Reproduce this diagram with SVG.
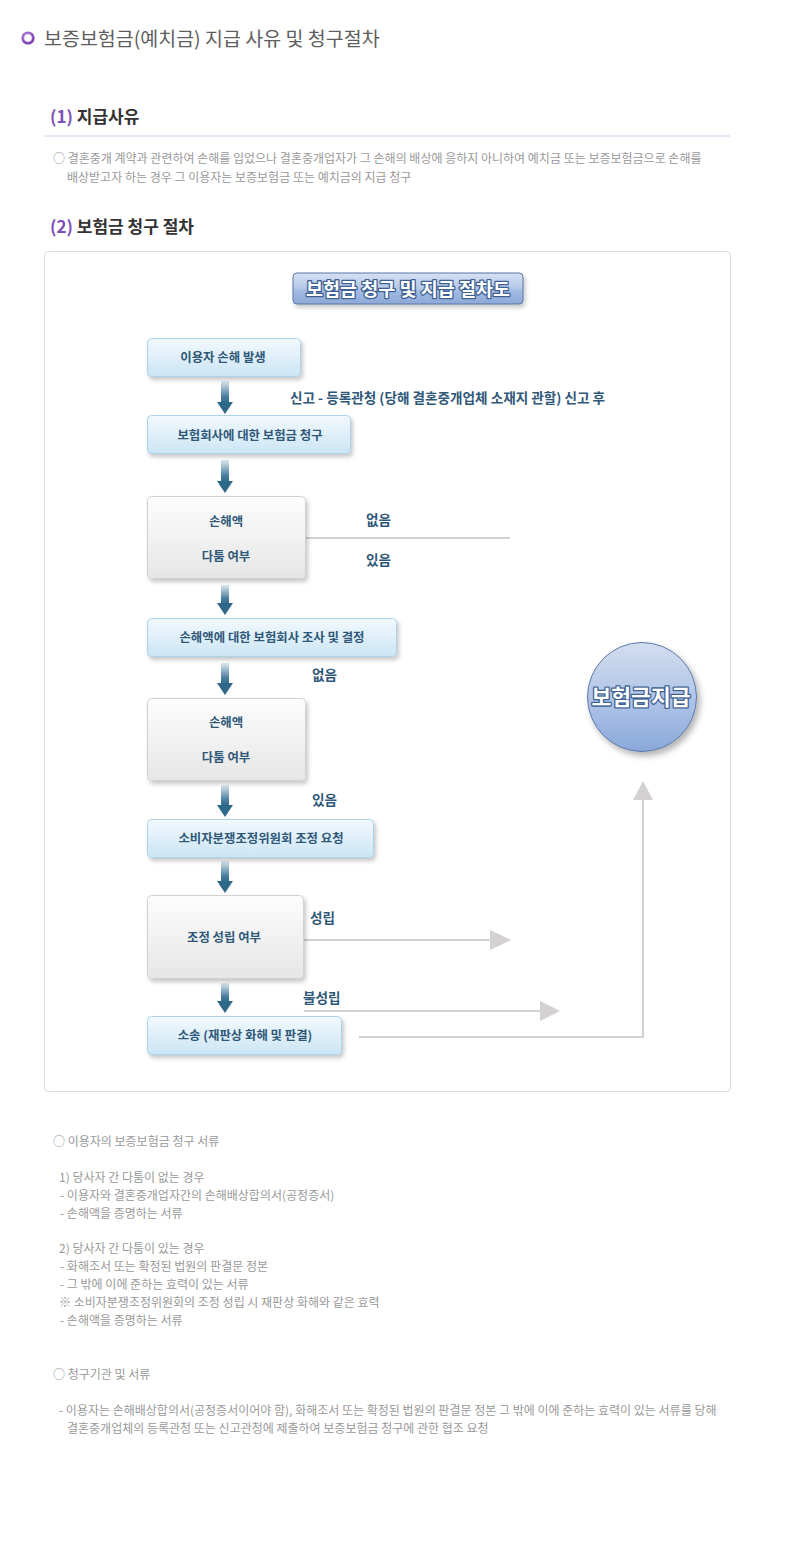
<svg xmlns="http://www.w3.org/2000/svg" width="800" height="1550" viewBox="0 0 800 1550">
<defs>
<linearGradient id="gBlue" x1="0" y1="0" x2="0" y2="1"><stop offset="0" stop-color="#f3f9fd"/><stop offset="1" stop-color="#cbe5f5"/></linearGradient>
<linearGradient id="gGray" x1="0" y1="0" x2="0" y2="1"><stop offset="0" stop-color="#fdfdfd"/><stop offset="1" stop-color="#e6e6e6"/></linearGradient>
<linearGradient id="gShaft" x1="0" y1="0" x2="0" y2="1"><stop offset="0" stop-color="#dde9f0"/><stop offset="0.7" stop-color="#4c7f9f"/><stop offset="1" stop-color="#2d6889"/></linearGradient>
<linearGradient id="gBtn" x1="0" y1="0" x2="0" y2="1"><stop offset="0" stop-color="#d6e1f3"/><stop offset="0.5" stop-color="#b3c7e8"/><stop offset="0.55" stop-color="#a3bbe3"/><stop offset="1" stop-color="#8ea9d8"/></linearGradient>
<linearGradient id="gCircle" x1="0" y1="0" x2="0" y2="1"><stop offset="0" stop-color="#d3deef"/><stop offset="0.55" stop-color="#aec3e6"/><stop offset="0.65" stop-color="#a6bde6"/><stop offset="1" stop-color="#8aa8d9"/></linearGradient>
<radialGradient id="gBullet" cx="0.4" cy="0.35" r="0.7"><stop offset="0" stop-color="#c9a3ea"/><stop offset="1" stop-color="#7a3fb0"/></radialGradient>
<filter id="sh" x="-10%" y="-20%" width="130%" height="160%"><feDropShadow dx="2" dy="3" stdDeviation="2" flood-color="#000" flood-opacity="0.22"/></filter>
<filter id="shc" x="-20%" y="-20%" width="150%" height="150%"><feDropShadow dx="3" dy="4" stdDeviation="3" flood-color="#000" flood-opacity="0.3"/></filter>
<style>
text{font-family:"Noto Sans CJK KR","Noto Sans",sans-serif;}
.title{font-size:19.5px;fill:#5e5e5e;}
.h{font-size:17px;font-weight:bold;fill:#333;}
.hn{fill:#7d4db8;}
.p{font-size:12px;fill:#999;}
.bt{font-size:12.4px;font-weight:bold;fill:#2f5878;text-anchor:middle;}
.lb{font-size:13.6px;font-weight:bold;fill:#2f5878;}
.bluebox{fill:url(#gBlue);stroke:#acd3ea;stroke-width:1;filter:url(#sh);}
.graybox{fill:url(#gGray);stroke:#d2d2d2;stroke-width:1;filter:url(#sh);}
.shaft{fill:url(#gShaft);}
.head{fill:#2d6889;}
.gl{stroke:#d3d1d1;stroke-width:2;fill:none;}
.gh{fill:#d3d1d1;}
.outl{fill:#fff;stroke:#3d5f92;stroke-width:2.6;paint-order:stroke;stroke-linejoin:round;font-weight:bold;text-anchor:middle;}
</style>
</defs>
<rect width="800" height="1550" fill="#fff"/>

<g id="page-title">
<circle cx="28" cy="38" r="5.2" fill="none" stroke="url(#gBullet)" stroke-width="2.8"/>
<text class="title" x="44" y="46">보증보험금(예치금) 지급 사유 및 청구절차</text>
</g>

<g id="section1">
<text class="h" x="50" y="123"><tspan class="hn">(1)</tspan> 지급사유</text>
<line x1="44" y1="136" x2="730" y2="136" stroke="#dccbeb" stroke-width="1"/>
<text class="p" x="53" y="163">○ 결혼중개 계약과 관련하여 손해를 입었으나 결혼중개업자가 그 손해의 배상에 응하지 아니하여 예치금 또는 보증보험금으로 손해를</text>
<text class="p" x="67" y="182">배상받고자 하는 경우 그 이용자는 보증보험금 또는 예치금의 지급 청구</text>
</g>

<g id="section2">
<text class="h" x="50" y="233"><tspan class="hn">(2)</tspan> 보험금 청구 절차</text>
<rect x="44.5" y="251.5" width="686" height="840" rx="4" fill="#fff" stroke="#dcdcdc" stroke-width="1"/>
</g>

<g id="chart-title">
<rect x="293" y="273" width="230" height="31" rx="4" fill="url(#gBtn)" stroke="#5a76a6" stroke-width="1" filter="url(#sh)"/>
<text class="outl" x="408" y="296" style="font-size:18.5px;">보험금 청구 및 지급 절차도</text>
</g>

<g id="connectors">
<rect class="shaft" x="221" y="381" width="8" height="22"/><polygon class="head" points="217,402 233,402 225,414"/>
<rect class="shaft" x="221" y="460" width="8" height="22"/><polygon class="head" points="217,481 233,481 225,493"/>
<rect class="shaft" x="221" y="585" width="8" height="19"/><polygon class="head" points="217,603 233,603 225,615"/>
<rect class="shaft" x="221" y="663" width="8" height="21"/><polygon class="head" points="217,683 233,683 225,695"/>
<rect class="shaft" x="221" y="785" width="8" height="21"/><polygon class="head" points="217,805 233,805 225,817"/>
<rect class="shaft" x="221" y="861" width="8" height="21"/><polygon class="head" points="217,881 233,881 225,893"/>
<rect class="shaft" x="221" y="983" width="8" height="19"/><polygon class="head" points="217,1001 233,1001 225,1013"/>

<line class="gl" x1="306" y1="538" x2="510" y2="538"/>
<line class="gl" x1="304" y1="940" x2="492" y2="940"/><polygon class="gh" points="490,930 511,940 490,950"/>
<line class="gl" x1="304" y1="1011" x2="542" y2="1011"/><polygon class="gh" points="540,1001 560,1011 540,1021"/>
<polyline class="gl" points="359,1037 643,1037 643,798"/><polygon class="gh" points="633,800 643,781 653,800"/>

<text class="lb" x="290" y="403">신고 - 등록관청 (당해 결혼중개업체 소재지 관할) 신고 후</text>
<text class="lb" x="366" y="525">없음</text>
<text class="lb" x="366" y="565">있음</text>
<text class="lb" x="312" y="680">없음</text>
<text class="lb" x="312" y="805">있음</text>
<text class="lb" x="310" y="923">성립</text>
<text class="lb" x="303" y="1003">불성립</text>
</g>

<g id="n1"><rect class="bluebox" x="147.5" y="338.5" width="153" height="38" rx="4"/><text class="bt" x="223" y="362">이용자 손해 발생</text></g>
<g id="n2"><rect class="bluebox" x="147.5" y="415.5" width="203" height="38" rx="4"/><text class="bt" x="250" y="440">보험회사에 대한 보험금 청구</text></g>
<g id="n3"><rect class="graybox" x="147.5" y="496.5" width="158" height="82" rx="4"/><text class="bt" x="226" y="526">손해액</text><text class="bt" x="226" y="561">다툼 여부</text></g>
<g id="n4"><rect class="bluebox" x="147.5" y="618.5" width="249" height="38" rx="4"/><text class="bt" x="272" y="642">손해액에 대한 보험회사 조사 및 결정</text></g>
<g id="n5"><rect class="graybox" x="147.5" y="698.5" width="158" height="82" rx="4"/><text class="bt" x="226" y="727">손해액</text><text class="bt" x="226" y="762">다툼 여부</text></g>
<g id="n6"><rect class="bluebox" x="147.5" y="819.5" width="226" height="38" rx="4"/><text class="bt" x="261" y="843">소비자분쟁조정위원회 조정 요청</text></g>
<g id="n7"><rect class="graybox" x="147.5" y="895.5" width="156" height="83" rx="4"/><text class="bt" x="224" y="942">조정 성립 여부</text></g>
<g id="n8"><rect class="bluebox" x="147.5" y="1016.5" width="194" height="38" rx="4"/><text class="bt" x="245" y="1040">소송 (재판상 화해 및 판결)</text></g>
<g id="n9"><circle cx="642" cy="697" r="54.5" fill="url(#gCircle)" stroke="#5b79aa" stroke-width="1" filter="url(#shc)"/><text class="outl" x="641" y="705" style="font-size:21.5px;">보험금지급</text></g>

<g id="notes">
<text class="p" x="53" y="1146">○ 이용자의 보증보험금 청구 서류</text>
<text class="p" x="59" y="1182">1) 당사자 간 다툼이 없는 경우</text>
<text class="p" x="60" y="1200">- 이용자와 결혼중개업자간의 손해배상합의서(공정증서)</text>
<text class="p" x="60" y="1218">- 손해액을 증명하는 서류</text>
<text class="p" x="59" y="1253">2) 당사자 간 다툼이 있는 경우</text>
<text class="p" x="60" y="1271">- 화해조서 또는 확정된 법원의 판결문 정본</text>
<text class="p" x="60" y="1289">- 그 밖에 이에 준하는 효력이 있는 서류</text>
<text class="p" x="59" y="1307">※ 소비자분쟁조정위원회의 조정 성립 시 재판상 화해와 같은 효력</text>
<text class="p" x="60" y="1325">- 손해액을 증명하는 서류</text>
<text class="p" x="53" y="1379">○ 청구기관 및 서류</text>
<text class="p" x="59" y="1415">- 이용자는 손해배상합의서(공정증서이어야 함), 화해조서 또는 확정된 법원의 판결문 정본 그 밖에 이에 준하는 효력이 있는 서류를 당해</text>
<text class="p" x="67" y="1433">결혼중개업체의 등록관청 또는 신고관청에 제출하여 보증보험금 청구에 관한 협조 요청</text>
</g>
</svg>
